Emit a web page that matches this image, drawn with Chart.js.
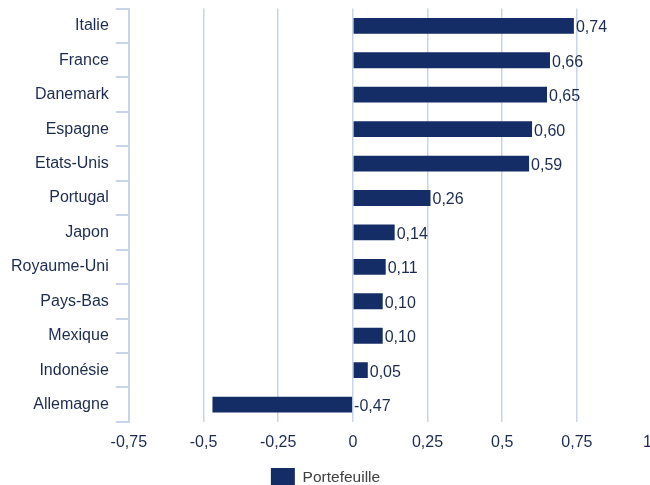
<!DOCTYPE html>
<html lang="fr">
<head>
    <meta charset="UTF-8">
    <title>Portefeuille par pays</title>
    <script src="https://cdn.jsdelivr.net/npm/chart.js"></script>
    <style>
        html, body {
            margin: 0;
            padding: 0;
            background: #ffffff;
            overflow: hidden;
        }
        #wrap {
            position: absolute;
            left: 0;
            top: -8px;
            width: 671px;
            height: 506px;
        }
    </style>
</head>
<body>

    <div id="wrap"><canvas id="paysChart"></canvas></div>

    <script>
        const pays = ["Italie", "France", "Danemark", "Espagne", "Etats-Unis", "Portugal",
            "Japon", "Royaume-Uni", "Pays-Bas", "Mexique", "Indonésie", "Allemagne"];
        const portefeuille = [0.74, 0.66, 0.65, 0.60, 0.59, 0.26, 0.14, 0.11, 0.10, 0.10, 0.05, -0.47];
        const graduations = [-0.75, -0.5, -0.25, 0, 0.25, 0.5, 0.75, 1];

        const bleuFonce = "#142d66";
        const texte = "#1c2b4f";
        const grille = "#c9d4e7";
        const police = "'Liberation Sans', Arial, sans-serif";

        // virgule décimale ; la dernière graduation est décalée vers l'intérieur
        const fr = v => v === 1 ? "1\u2002" : String(v).replace(".", ",");

        // valeur écrite à droite de chaque barre (à droite du zéro pour les négatives)
        const etiquettes = {
            id: "etiquettes",
            afterDatasetsDraw(chart) {
                const ctx = chart.ctx;
                const meta = chart.getDatasetMeta(0);
                ctx.save();
                ctx.font = "16px " + police;
                ctx.fillStyle = texte;
                ctx.textAlign = "left";
                ctx.textBaseline = "middle";
                meta.data.forEach((bar, i) => {
                    const x = Math.max(bar.x, bar.base);
                    ctx.fillText(portefeuille[i].toFixed(2).replace(".", ","), x + 2, bar.y + 2);
                });
                ctx.restore();
            }
        };

        // légende un peu à gauche du centre du canvas
        const decalageLegende = {
            id: "decalageLegende",
            afterLayout(chart) {
                if (!chart.legend) return;
                chart.legend.left -= 11;
                chart.legend.right -= 11;
            }
        };

        new Chart(document.getElementById("paysChart"), {
            type: "bar",
            data: {
                labels: pays,
                datasets: [{
                    label: "Portefeuille",
                    data: portefeuille,
                    backgroundColor: bleuFonce,
                    borderWidth: 0,
                    barPercentage: 0.46,
                    categoryPercentage: 1
                }]
            },
            options: {
                indexAxis: "y",
                responsive: true,
                maintainAspectRatio: false,
                animation: false,
                layout: { padding: { top: 0, left: 4, right: 2, bottom: 0 } },
                plugins: {
                    tooltip: { enabled: false },
                    legend: {
                        position: "bottom",
                        labels: {
                            boxWidth: 24,
                            boxHeight: 20,
                            padding: 5,
                            color: "#404040",
                            font: { size: 15.5, family: police }
                        }
                    }
                },
                scales: {
                    x: {
                        min: -0.75,
                        max: 1,
                        afterBuildTicks: axis => {
                            axis.ticks = graduations.map(v => ({ value: v }));
                        },
                        ticks: {
                            color: texte,
                            padding: 11,
                            maxRotation: 0,
                            font: { size: 16, family: police },
                            callback: v => fr(v)
                        },
                        grid: {
                            color: grille,
                            lineWidth: 1.5,
                            drawTicks: false
                        },
                        border: { display: false }
                    },
                    y: {
                        ticks: {
                            color: texte,
                            padding: 7,
                            font: { size: 16, family: police }
                        },
                        grid: {
                            color: grille,
                            lineWidth: 2,
                            offset: true,
                            drawOnChartArea: false,
                            drawTicks: true,
                            tickLength: 13
                        },
                        border: { display: true, color: grille, width: 2 }
                    }
                }
            },
            plugins: [etiquettes, decalageLegende]
        });
    </script>

</body>
</html>
